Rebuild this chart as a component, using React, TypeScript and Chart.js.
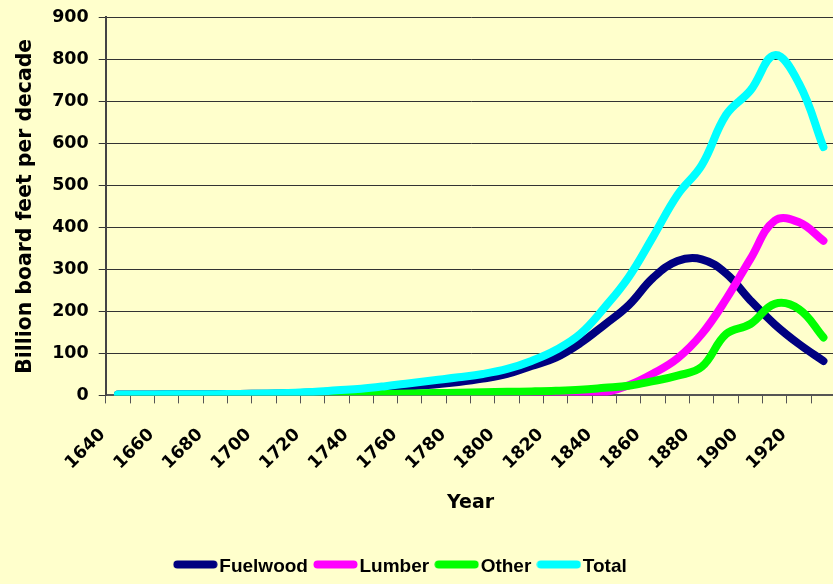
import React, { useEffect, useRef } from 'react';
import { Chart, registerables } from 'chart.js';

Chart.register(...registerables);

// Mid-decade positions (one value per decade, 1640s … 1930s)
const years = [
  1645, 1655, 1665, 1675, 1685, 1695, 1705, 1715, 1725, 1735,
  1745, 1755, 1765, 1775, 1785, 1795, 1805, 1815, 1825, 1835,
  1845, 1855, 1865, 1875, 1885, 1895, 1905, 1915, 1925, 1935,
];

const fuelwood = [
  2, 2, 2.5, 3, 3, 3.5, 4, 5, 7, 10,
  13, 17, 22, 26, 32, 40, 51, 70, 90, 124,
  168, 215, 280, 320, 324, 290, 226, 169, 122, 82,
];

const lumber = [
  0, 0, 0, 0, 0, 0, 0, 0, 0, 0,
  0, 0, 0, 0, 0, 0, 0, 0, 0, 1,
  7, 24, 52, 88, 146, 229, 325, 416, 412, 368,
];

const other = [
  0, 0, 0, 0, 0, 0, 0, 0.5, 1, 1.5,
  2.5, 3.5, 4.5, 5.5, 6.5, 7.5, 8.5, 9.5, 11, 13.5,
  18, 23, 34, 47, 68, 146, 170, 218, 205, 138,
];

const total = [
  2, 2, 2.5, 3, 3, 3.5, 4.5, 6, 8, 12,
  16, 22, 29, 36, 43, 51, 63, 82, 108, 146,
  209, 282, 378, 477, 548, 668, 726, 810, 742, 591,
];

const seriesNames = ['Fuelwood', 'Lumber', 'Other', 'Total'];
const seriesColors = ['#000080', '#FF00FF', '#00FF00', '#00FFFF'];
const seriesValues = [fuelwood, lumber, other, total];

const xTickLabels = [1640, 1660, 1680, 1700, 1720, 1740, 1760, 1780, 1800, 1820, 1840, 1860, 1880, 1900, 1920];
const xMin = 1640;
const xMax = 1940;
const yMax = 900;
const yStep = 100;

const yTitle = 'Billion board feet per decade';
const xTitle = 'Year';

function makeSwatch(color: string): HTMLCanvasElement {
  const c = document.createElement('canvas');
  c.width = 45;
  c.height = 13;
  const g = c.getContext('2d')!;
  g.strokeStyle = color;
  g.lineWidth = 8;
  g.lineCap = 'round';
  g.beginPath();
  g.moveTo(4.5, 4.5);
  g.lineTo(40.5, 4.5);
  g.stroke();
  return c;
}

const legendShift = {
  id: 'legendShift',
  afterLayout(chart: any) {
    const lg = chart.legend;
    if (lg) {
      lg.left -= 14;
      lg.right -= 14;
    }
  },
};

export default function App() {
  const ref = useRef<HTMLCanvasElement | null>(null);

  useEffect(() => {
    if (!ref.current) return;
    const datasets = seriesNames.map((name, k) => ({
      label: name,
      data: years.map((yr, i) => ({ x: yr, y: seriesValues[k][i] })),
      borderColor: seriesColors[k],
      backgroundColor: seriesColors[k],
      borderWidth: 8,
      borderCapStyle: 'round' as const,
      borderJoinStyle: 'round' as const,
      pointRadius: 0,
      pointHoverRadius: 0,
      pointStyle: makeSwatch(seriesColors[k]),
      tension: 0.4,
      fill: false,
      order: seriesNames.length - k,
    }));

    const chart = new Chart(ref.current, {
      type: 'line',
      data: { datasets },
      plugins: [legendShift],
      options: {
        responsive: false,
        animation: false,
        devicePixelRatio: 1,
        layout: { padding: { top: 17.3, left: 0, right: 9.4, bottom: 4 } },
        plugins: {
          tooltip: { enabled: false },
          legend: {
            position: 'bottom',
            labels: {
              usePointStyle: true,
              pointStyleWidth: 29,
              padding: 13,
              color: '#000',
              font: { family: 'Liberation Sans', weight: 'bold', size: 19 },
              sort: (a: any, b: any) => a.datasetIndex - b.datasetIndex,
            },
          },
        },
        scales: {
          x: {
            type: 'linear',
            min: xMin,
            max: xMax,
            afterFit: (scale: any) => {
              scale.height = 148.6;
              scale.paddingRight = 0;
            },
            grid: {
              display: true,
              drawOnChartArea: false,
              drawTicks: true,
              tickLength: 8,
              color: '#555',
              lineWidth: 1,
            },
            border: { display: true, color: '#555', width: 2 },
            ticks: {
              stepSize: 10,
              autoSkip: false,
              maxTicksLimit: 100,
              minRotation: 45,
              maxRotation: 45,
              labelOffset: -3,
              padding: 21,
              color: '#000',
              font: { family: 'DejaVu Sans', weight: 'bold', size: 17.5 },
              callback: (v: any) => (xTickLabels.includes(Number(v)) ? String(v) : ''),
            },
            title: {
              display: true,
              text: xTitle,
              color: '#000',
              font: { family: 'DejaVu Sans', weight: 'bold', size: 19 },
              padding: { top: 10, bottom: 29.6 },
            },
          },
          y: {
            min: 0,
            max: yMax,
            afterFit: (scale: any) => {
              scale.paddingTop = 0;
              scale.paddingBottom = 0;
            },
            grid: {
              color: '#333',
              lineWidth: 1,
              tickLength: 7,
            },
            border: { display: true, color: '#444', width: 2 },
            ticks: {
              stepSize: yStep,
              padding: 10,
              color: '#000',
              font: { family: 'DejaVu Sans', weight: 'bold', size: 17.5 },
            },
            title: {
              display: true,
              text: yTitle,
              color: '#000',
              font: { family: 'DejaVu Sans', weight: 'bold', size: 20.4 },
              padding: { top: 13.75, bottom: 3.95 },
            },
          },
        },
      },
    } as any);

    return () => chart.destroy();
  }, []);

  return (
    <div
      style={{
        position: 'fixed',
        left: 0,
        top: 0,
        width: 833,
        height: 584,
        overflow: 'hidden',
        background: '#FFFFCC',
      }}
    >
      <canvas ref={ref} width={845} height={590} style={{ display: 'block' }} />
    </div>
  );
}
